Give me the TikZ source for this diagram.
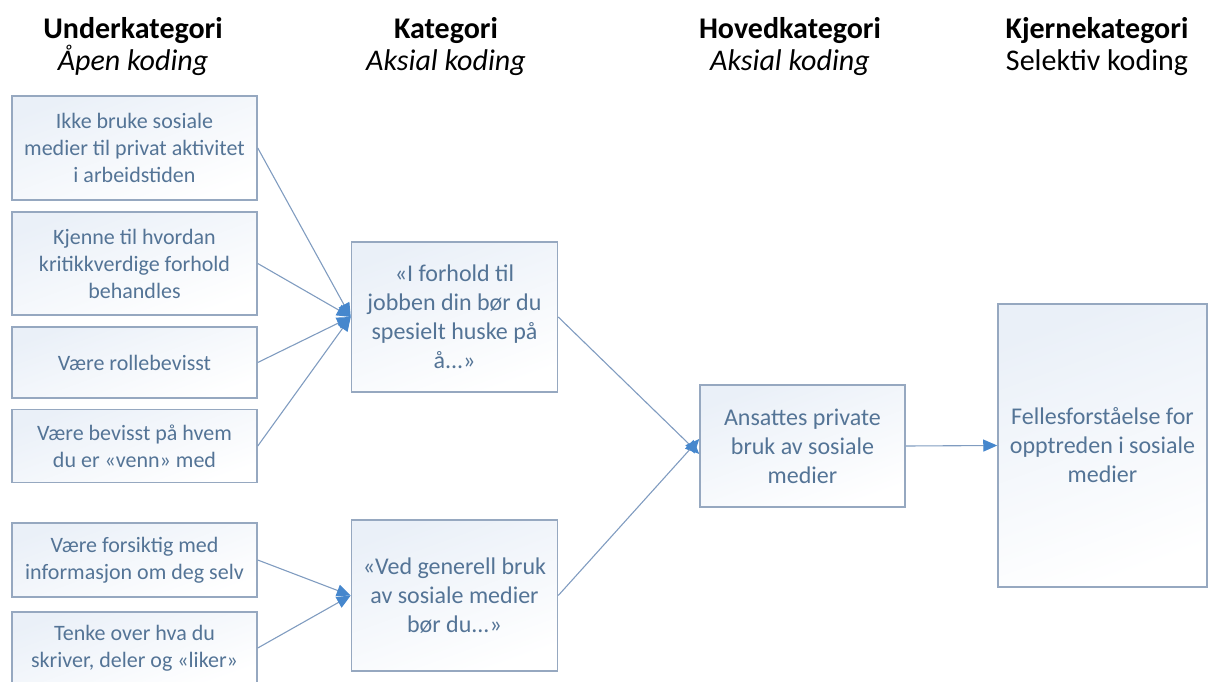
\documentclass[tikz,border=0pt]{standalone}
\usepackage{fontspec}
\setmainfont{Carlito}
\usetikzlibrary{arrows.meta}
\definecolor{boxline}{RGB}{150,168,192}
\definecolor{boxtop}{RGB}{234,240,248}
\definecolor{boxtext}{RGB}{84,116,150}
\definecolor{conn}{RGB}{128,156,192}
\definecolor{tipblue}{RGB}{70,135,205}
\tikzset{
  cbox/.style={draw=boxline, line width=1.5pt, rectangle, align=center,
    text=boxtext, top color=boxtop, bottom color=white, shading angle=20,
    inner sep=2pt},
  subbox/.style={cbox, minimum width=245pt, font=\fontsize{22}{27}\selectfont},
  catbox/.style={cbox, minimum width=206pt, font=\fontsize{24}{29}\selectfont},
  headtext/.style={align=center, text=black, font=\fontsize{30}{32}\selectfont},
  link/.style={draw=conn, line width=1.1pt,
    -{Triangle[length=14pt,width=12pt,fill=tipblue,color=tipblue]}}
}
\begin{document}
\begin{tikzpicture}[x=1pt,y=-1pt]
\useasboundingbox (0,0) rectangle (1208,682);

% column headings
\node[headtext] (h1) at (133,47) {\textbf{Underkategori}\\\textit{Åpen koding}};
\node[headtext] (h2) at (446,47) {\textbf{Kategori}\\\textit{Aksial koding}};
\node[headtext] (h3) at (790,47) {\textbf{Hovedkategori}\\\textit{Aksial koding}};
\node[headtext] (h4) at (1097,47) {\textbf{Kjernekategori}\\Selektiv koding};

% open coding: subcategories
\node[subbox, minimum height=104pt] (u1) at (134.5,148) {Ikke bruke sosiale\\medier til privat aktivitet\\i arbeidstiden};
\node[subbox, minimum height=103pt] (u2) at (134.5,263.5) {Kjenne til hvordan\\kritikkverdige forhold\\behandles};
\node[subbox, minimum height=71pt] (u3) at (134.5,362.5) {Være rollebevisst};
\node[subbox, minimum height=73pt] (u4) at (134.5,446) {Være bevisst på hvem\\du er «venn» med};
\node[subbox, minimum height=74pt] (u5) at (134.5,560) {Være forsiktig med\\informasjon om deg selv};
\node[subbox, minimum height=72pt] (u6) at (134.5,648) {Tenke over hva du\\skriver, deler og «liker»};

% axial coding: categories
\node[catbox, minimum height=150pt] (k1) at (454.5,317) {«I forhold til\\jobben din bør du\\spesielt huske på\\å...»};
\node[catbox, minimum height=151pt] (k2) at (454.5,595.5) {«Ved generell bruk\\av sosiale medier\\bør du...»};

% main category and core category
\node[catbox, minimum width=205pt, minimum height=122pt] (m1) at (802.5,446) {Ansattes private\\bruk av sosiale\\medier};
\node[catbox, minimum width=209pt, minimum height=283pt] (c1) at (1102.5,445.5) {Fellesforståelse for\\opptreden i sosiale\\medier};

% connectors
\foreach \s in {u1,u2,u3,u4} \draw[link] (\s.east) -- (k1.west);
\foreach \s in {u5,u6} \draw[link] (\s.east) -- (k2.west);
\draw[link] (k1.east) -- ([yshift=-8pt]m1.west);
\draw[link] (k2.east) -- ([yshift=7pt]m1.west);
\draw[link] (m1.east) -- (c1.west);
\end{tikzpicture}
\end{document}
